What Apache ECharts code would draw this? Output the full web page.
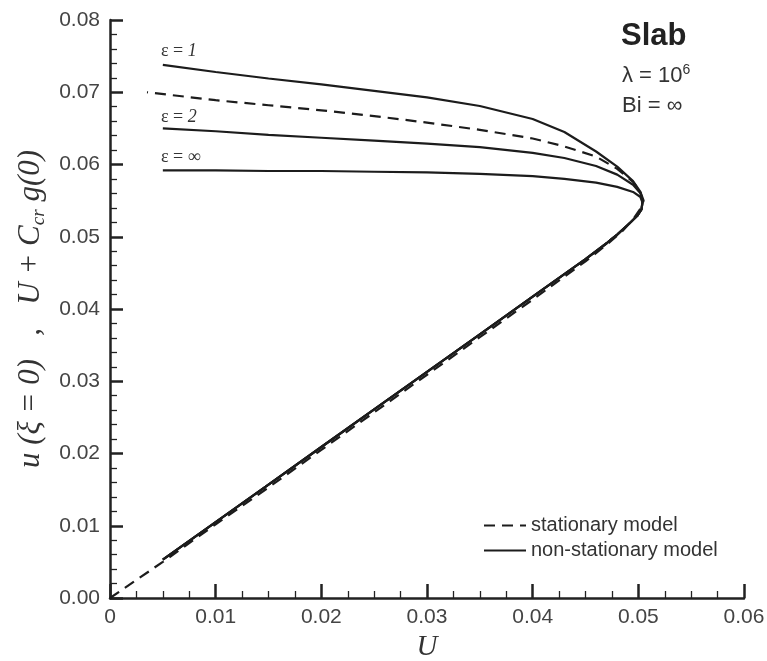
<!DOCTYPE html>
<html>
<head>
<meta charset="utf-8">
<script src="https://cdn.jsdelivr.net/npm/echarts@6/dist/echarts.min.js"></script>
<style>html,body{margin:0;padding:0;background:#fff;}#c{width:767px;height:661px;}</style>
</head>
<body>
<div id="c"></div>
<script>
// ---- data (U, value) ----
var xTicks = ['0', '0.01', '0.02', '0.03', '0.04', '0.05', '0.06'];
var yTicks = ['0.00', '0.01', '0.02', '0.03', '0.04', '0.05', '0.06', '0.07', '0.08'];

var stationaryLower = [[0,0],[0.005,0.0050],[0.01,0.0102],[0.015,0.0153],[0.02,0.0205],[0.025,0.0257],[0.03,0.0309],[0.035,0.0361],[0.04,0.0413],[0.045,0.0466],[0.047,0.0489],[0.0485,0.0508],[0.0495,0.0524],[0.0502,0.0539],[0.0505,0.0550]];
var stationaryUpper = [[0.0505,0.0550],[0.0502,0.0562],[0.0495,0.0576],[0.048,0.0594],[0.046,0.0611],[0.043,0.0625],[0.04,0.0636],[0.035,0.0648],[0.03,0.0658],[0.025,0.0667],[0.02,0.0675],[0.015,0.0682],[0.01,0.0689],[0.0035,0.0700]];

var eps1Upper = [[0.005,0.0738],[0.01,0.0728],[0.015,0.0719],[0.02,0.0711],[0.025,0.0702],[0.03,0.0693],[0.035,0.0681],[0.04,0.0663],[0.043,0.0645],[0.046,0.0618],[0.048,0.0597],[0.0495,0.0577],[0.0502,0.0562],[0.0504,0.0550]];
var eps2Upper = [[0.005,0.0650],[0.01,0.0646],[0.015,0.0641],[0.02,0.0637],[0.025,0.0633],[0.03,0.0629],[0.035,0.0624],[0.04,0.0616],[0.043,0.0609],[0.046,0.0598],[0.048,0.0586],[0.0495,0.0572],[0.0502,0.0560],[0.0504,0.0549]];
var epsInfUpper = [[0.005,0.0592],[0.01,0.0592],[0.015,0.0591],[0.02,0.0591],[0.025,0.0590],[0.03,0.0589],[0.035,0.0587],[0.04,0.0584],[0.043,0.0580],[0.046,0.0575],[0.048,0.0569],[0.0495,0.0562],[0.0502,0.0555],[0.0504,0.0547]];
var nonStatLower = [[0.0503,0.0538],[0.0499,0.0529],[0.0492,0.0519],[0.0486,0.0511],[0.048,0.0503],[0.0474,0.0496],[0.047,0.0491],[0.045,0.0469],[0.04,0.0417],[0.035,0.0365],[0.03,0.0313],[0.025,0.0261],[0.02,0.0209],[0.015,0.0157],[0.01,0.0105],[0.005,0.0053]];

var seriesNames = ['stationary model', 'non-stationary model'];
var epsLabels = ['ε = ', '1', '2', '∞'];

var chart = echarts.init(document.getElementById('c'), null, {renderer: 'canvas'});
var ink = '#1c1c1c';

function solid(name, upper) {
  return {
    name: name, type: 'line', showSymbol: false, symbol: 'none',
    data: upper.concat(nonStatLower),
    lineStyle: {color: ink, width: 2.2, type: 'solid'},
    itemStyle: {color: ink}, z: 3
  };
}

var serif = 'Liberation Serif';
var sans = 'Liberation Sans';
var epsRich = {
  a: {fontFamily: serif, fontSize: 18, fill: '#333'},
  b: {fontFamily: serif, fontStyle: 'italic', fontSize: 18, fill: '#333'},
  c: {fontFamily: serif, fontSize: 18, fill: '#333'}
};

var option = {
  backgroundColor: '#ffffff',
  animation: false,
  grid: {left: 110, right: 23, top: 20, bottom: 63, containLabel: false, outerBoundsMode: 'none'},
  xAxis: {
    type: 'value', min: 0, max: 0.06, interval: 0.01,
    name: 'U', nameLocation: 'middle', nameGap: 28,
    nameTextStyle: {fontFamily: serif, fontStyle: 'italic', fontSize: 29, color: '#333'},
    axisLine: {show: true, onZero: false, lineStyle: {color: '#222', width: 2.5}},
    axisTick: {show: true, inside: true, length: 14, lineStyle: {color: '#222', width: 2.5}},
    minorTick: {show: true, splitNumber: 4, length: 7, lineStyle: {color: '#222', width: 1.3}},
    splitLine: {show: false},
    axisLabel: {
      margin: 9, fontFamily: sans, fontSize: 21, color: '#444',
      formatter: function (v) { return xTicks[Math.round(v / 0.01)]; }
    }
  },
  yAxis: {
    type: 'value', min: 0, max: 0.08, interval: 0.01,
    name: '{i|u (ξ = 0)   ,   U + C}{s|cr}{i| g(0)}', nameLocation: 'middle', nameGap: 59, nameRotate: 90,
    nameTextStyle: {
      rich: {
        i: {fontFamily: serif, fontStyle: 'italic', fontSize: 31, color: '#333'},
        s: {fontFamily: serif, fontStyle: 'italic', fontSize: 19, color: '#333', verticalAlign: 'bottom', padding: [15, 0, 0, 0]}
      }
    },
    axisLine: {show: true, onZero: false, lineStyle: {color: '#222', width: 2.5}},
    axisTick: {show: true, inside: true, length: 13, lineStyle: {color: '#222', width: 2.5}},
    minorTick: {show: true, splitNumber: 5, length: 7, lineStyle: {color: '#222', width: 1.3}},
    splitLine: {show: false},
    axisLabel: {
      margin: 10, fontFamily: sans, fontSize: 21, color: '#444',
      formatter: function (v) { return yTicks[Math.round(v / 0.01)]; }
    }
  },
  legend: {
    data: seriesNames,
    orient: 'vertical', left: 478, top: 510, itemGap: 4,
    itemWidth: 42, itemHeight: 14,
    itemStyle: {opacity: 0},
    textStyle: {fontFamily: sans, fontSize: 20, lineHeight: 21, color: '#333'},
    selectedMode: false
  },
  series: [
    {
      name: seriesNames[0], type: 'line', showSymbol: false, symbol: 'none',
      data: stationaryLower.concat(stationaryUpper),
      lineStyle: {color: ink, width: 2.2, type: [11, 7]},
      itemStyle: {color: ink}, z: 2
    },
    solid(seriesNames[1], eps1Upper),
    solid('eps2', eps2Upper),
    solid('epsInf', epsInfUpper)
  ],
  graphic: [
    {type: 'text', left: 161, top: 42, style: {rich: epsRich, text: '{a|' + epsLabels[0] + '}{b|' + epsLabels[1] + '}'}},
    {type: 'text', left: 161, top: 108, style: {rich: epsRich, text: '{a|' + epsLabels[0] + '}{b|' + epsLabels[2] + '}'}},
    {type: 'text', left: 161, top: 148, style: {rich: epsRich, text: '{a|' + epsLabels[0] + '}{c|' + epsLabels[3] + '}'}},
    {type: 'text', left: 621, top: 21, style: {text: 'Slab', fontFamily: sans, fontWeight: 'bold', fontSize: 31, fill: '#222'}},
    {type: 'text', left: 622, top: 63, style: {rich: {a: {fontFamily: sans, fontSize: 22, fill: '#333'}, s: {fontFamily: sans, fontSize: 14, fill: '#333', verticalAlign: 'top', padding: [0, 0, 12, 0]}}, text: '{a|λ = 10}{s|6}'}},
    {type: 'text', left: 622, top: 95, style: {text: 'Bi = ∞', fontFamily: sans, fontSize: 22, fill: '#333'}}
  ]
};
chart.setOption(option);
</script>
</body>
</html>
